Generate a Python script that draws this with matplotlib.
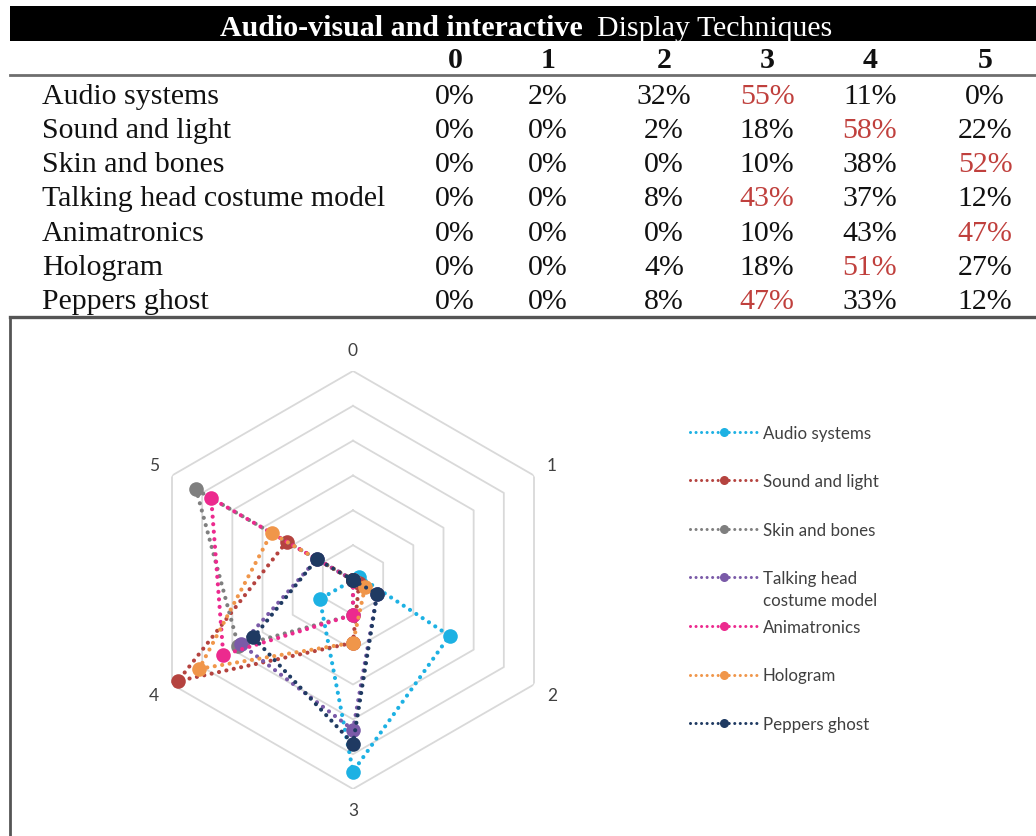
import numpy as np
import matplotlib
matplotlib.use('Agg')
import matplotlib.pyplot as plt
from matplotlib.lines import Line2D
from matplotlib.patches import Rectangle

# survey ratings 0-5, share of respondents (%)
ratings = ['0', '1', '2', '3', '4', '5']
techniques = ['Audio systems', 'Sound and light', 'Skin and bones',
              'Talking head costume model', 'Animatronics', 'Hologram',
              'Peppers ghost']
audio_systems = [0, 2, 32, 55, 11, 0]
sound_and_light = [0, 0, 2, 18, 58, 22]
skin_and_bones = [0, 0, 0, 10, 38, 52]
talking_head = [0, 0, 8, 43, 37, 12]
animatronics = [0, 0, 0, 10, 43, 47]
hologram = [0, 0, 4, 18, 51, 27]
peppers_ghost = [0, 0, 8, 47, 33, 12]

series = [audio_systems, sound_and_light, skin_and_bones, talking_head,
          animatronics, hologram, peppers_ghost]
colors = ['#1DB1E3', '#B5433F', '#7F7F7F', '#7A5AA8',
          '#EC2A8E', '#F0964A', '#1F3A62']
legend_labels = ['Audio systems', 'Sound and light', 'Skin and bones',
                 'Talking head', 'Animatronics', 'Hologram', 'Peppers ghost']

W, H = 1036, 837
fig = plt.figure(figsize=(W / 100, H / 100), dpi=100)


def fx(px):
    return px / W


def fy(py):
    return 1 - py / H


# ---- table ----
serif = 'Liberation Serif'
tsize = 21.5
fig.add_artist(Rectangle((fx(10), fy(42)), fx(W - 10), 35 / H,
                         transform=fig.transFigure, color='black', lw=0))
fig.text(fx(583), fy(29), 'Audio-visual and interactive', family=serif,
         weight='bold', color='white', fontsize=tsize, ha='right', va='center')
fig.text(fx(597), fy(29), 'Display Techniques', family=serif,
         color='white', fontsize=tsize, ha='left', va='center')

col_x = [455, 548, 664, 767, 870, 985]
row_y = [97, 131, 165, 199, 234, 268, 302]
for cx, r in zip(col_x, ratings):
    fig.text(fx(cx), fy(60), r, family=serif, weight='bold', fontsize=tsize,
             ha='center', va='center', color='#111111')
fig.add_artist(Line2D([fx(10), 1], [fy(76), fy(76)], transform=fig.transFigure,
                      color='#6e6e6e', lw=2))

for name, vals, ry in zip(techniques, series, row_y):
    fig.text(fx(42), fy(ry), name, family=serif, fontsize=tsize,
             ha='left', va='center', color='#111111')
    top = int(np.argmax(vals))
    for j, (cx, v) in enumerate(zip(col_x, vals)):
        fig.text(fx(cx), fy(ry), f'{v}%', family=serif, fontsize=tsize,
                 ha='center', va='center',
                 color='#C0403D' if j == top else '#111111')

# chart box
fig.add_artist(Line2D([fx(10), 1], [fy(318), fy(318)], transform=fig.transFigure,
                      color='#555555', lw=2.4))
fig.add_artist(Line2D([fx(10), fx(10)], [fy(318), 0], transform=fig.transFigure,
                      color='#555555', lw=2))

# ---- radar ----
cx0, cy0, rad = 353, 581, 209
ax = fig.add_axes([fx(cx0 - rad), fy(cy0 + rad), 2 * rad / W, 2 * rad / H],
                  projection='polar')
ax.set_theta_offset(np.pi / 2)
ax.set_theta_direction(-1)
ax.set_ylim(0, 60)
ax.grid(False)
ax.spines['polar'].set_visible(False)
ax.set_xticks([])
ax.set_yticks([])
ax.patch.set_alpha(0)

angles = np.linspace(0, 2 * np.pi, len(ratings), endpoint=False)
closed = np.append(angles, angles[0])
for r in range(10, 61, 10):
    ax.plot(closed, [r] * len(closed), color='#D9D9D9', lw=1.3, zorder=1)

for a, lab in zip(angles, ratings):
    ax.text(a, 66, lab, family='Lato', fontsize=12.5, color='#404040',
            ha='center', va='center')

dot = (0, (0.01, 1.8))
for vals, col in zip(series, colors):
    v = np.append(vals, vals[0])
    ax.plot(closed, v, color=col, lw=3.0, linestyle=dot,
            dash_capstyle='round', marker='o', ms=10.5, mew=0, zorder=3)

handles = [Line2D([], [], color=c, lw=2.2, linestyle=dot, dash_capstyle='round',
                  marker='o', ms=6.5, mew=0) for c in colors]
leg = fig.legend(handles, legend_labels, loc='upper left',
                 bbox_to_anchor=(fx(683), fy(419)), frameon=False,
                 prop={'family': 'Lato', 'size': 12.2}, labelcolor='#404040',
                 handlelength=4.0, handletextpad=0.3, labelspacing=1.92,
                 numpoints=1, borderaxespad=0)

fig.canvas.draw()
# second line of the "Talking head" entry
t = leg.get_texts()[3]
bb = t.get_window_extent()
fig.text(bb.x0 / W, (bb.y0 - 6) / H, 'costume model', family='Lato',
         fontsize=12.2, color='#404040', ha='left', va='top')

fig.savefig('out.png', dpi=100)
